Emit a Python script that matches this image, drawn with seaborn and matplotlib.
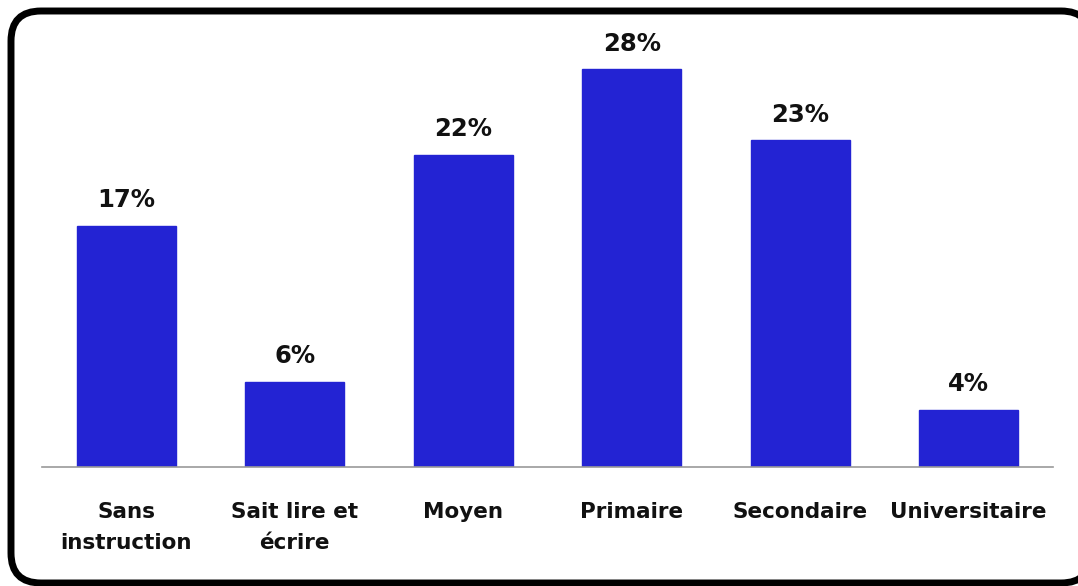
import matplotlib
matplotlib.use("Agg")
import matplotlib.pyplot as plt
from matplotlib.patches import FancyBboxPatch
from matplotlib.transforms import IdentityTransform
import seaborn as sns
import pandas as pd

categories = ["Sans\ninstruction", "Sait lire et\nécrire", "Moyen", "Primaire", "Secondaire", "Universitaire"]
values = [17, 6, 22, 28, 23, 4]
value_labels = ["17%", "6%", "22%", "28%", "23%", "4%"]

df = pd.DataFrame({"niveau": categories, "part": values})

sns.set_theme(style="white")
plt.rcParams["font.family"] = ["DejaVu Sans"]

W, H, DPI = 1078, 586, 100
fig = plt.figure(figsize=(W / DPI, H / DPI), dpi=DPI)
fig.patch.set_facecolor("white")

# rounded outer frame, drawn in pixel coordinates (origin bottom-left);
# filled white so the renderer does not clip its curved corners
frame = FancyBboxPatch((11, 3), 1080, 572,
                       boxstyle="round,pad=0,rounding_size=30",
                       transform=IdentityTransform(), figure=fig,
                       facecolor="white", edgecolor="black", linewidth=5.0,
                       zorder=-10)
fig.patches.append(frame)

ax = fig.add_axes([42 / W, 1 - 467 / H, (1053 - 42) / W, (467 - 41) / H])
ax.set_zorder(1)
sns.barplot(data=df, x="niveau", y="part", color="#2323D3", saturation=1,
            width=0.585, ax=ax)
for p in ax.patches:
    p.set_edgecolor("#2323D3")

ax.set_xlim(-0.5, len(categories) - 0.5)
ax.set_ylim(0, 30)
ax.set_xlabel("")
ax.set_ylabel("")
ax.set_yticks([])
ax.tick_params(axis="x", length=0, pad=25)
for lab in ax.get_xticklabels():
    lab.set_fontweight("bold")
    lab.set_fontsize(15.5)
    lab.set_color("#111111")
    lab.set_linespacing(1.72)

for s in ["top", "right", "left"]:
    ax.spines[s].set_visible(False)
ax.spines["bottom"].set_color("#999999")
ax.spines["bottom"].set_linewidth(1.2)
ax.patch.set_alpha(0)

for i, (v, t) in enumerate(zip(values, value_labels)):
    ax.annotate(t, (i, v), xytext=(0, 10), textcoords="offset points",
                ha="center", va="bottom", fontsize=17.5, fontweight="bold",
                color="#111111")

fig.savefig("out.png", dpi=DPI)
